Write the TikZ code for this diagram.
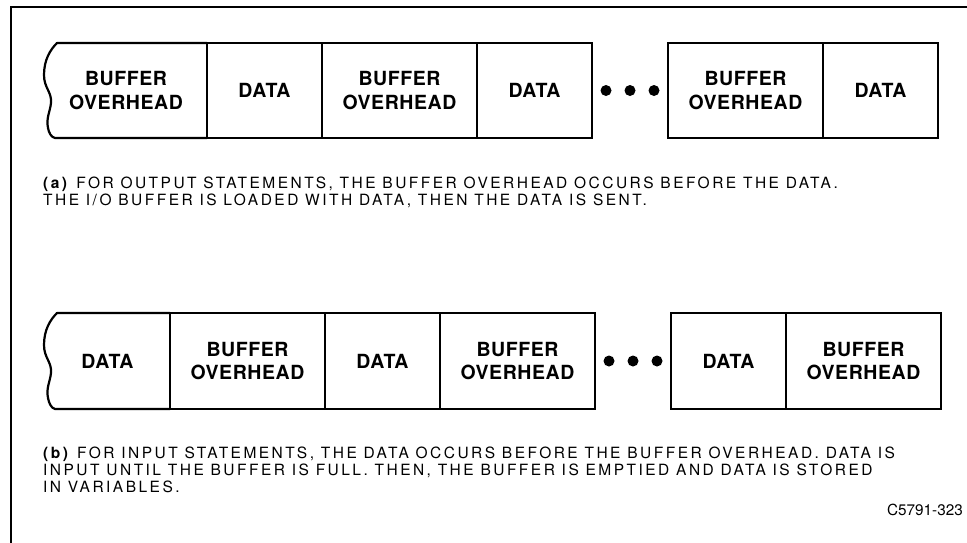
\documentclass[tikz,border=0pt]{standalone}
\usepackage{fontspec}
\setmainfont{TeX Gyre Heros}
\newfontfamily\capfont[LetterSpace=16]{TeX Gyre Heros}
\newfontfamily\cellfont[LetterSpace=3]{TeX Gyre Heros}
\usepackage{tikz}
\usetikzlibrary{positioning}

\begin{document}
\begin{tikzpicture}[
  x=1pt, y=-1pt,
  frame/.style={line width=2.6pt},
  cell/.style={draw, line width=2.2pt, minimum height=95pt, inner sep=0pt, outer sep=0pt, align=center, font=\cellfont\fontsize{19.5}{24}\selectfont\bfseries},
  torn/.style={line width=2.2pt, line join=round},
  dot/.style={circle, fill, minimum size=11pt, inner sep=0pt, outer sep=0pt},
  note/.style={anchor=north west, align=left, inner sep=0pt, font=\capfont\fontsize{15.5}{17}\selectfont}
]
\useasboundingbox (0,0) rectangle (967,542);

% outer frame
\coordinate (fbl) at (11,545);
\coordinate (ftr) at (970,7);
\draw[frame] (fbl) |- (ftr);

% (a) output buffer
\node[cell, draw=none, minimum width=162pt] (a1) at (126,90.5) {BUFFER\\OVERHEAD};
\node[cell, minimum width=115pt] (a2) [right=0pt of a1] {DATA};
\node[cell, minimum width=155pt] (a3) [right=0pt of a2] {BUFFER\\OVERHEAD};
\node[cell, minimum width=115pt] (a4) [right=0pt of a3] {DATA};
\node[dot] (da1) [right=8.5pt of a4] {};
\node[dot] (da2) [right=13pt of da1] {};
\node[dot] (da3) [right=13pt of da2] {};
\node[cell, minimum width=155pt] (a5) [right=8.5pt of da3] {BUFFER\\OVERHEAD};
\node[cell, minimum width=115pt] (a6) [right=0pt of a5] {DATA};
\begin{scope}[shift={(a1.north west)}]
  \draw[torn] (a1.north east) -- (12,0)
    .. controls (5,7) and (-1,17) .. (-1,32)
    .. controls (-1,45) and (7,49) .. (6,60)
    .. controls (5,69) and (1,75) .. (3,85)
    .. controls (4,90) and (6,94) .. (10,95) -- (a1.south east);
\end{scope}

\node[note] (capa) at (43,177) {\textbf{(a)} FOR OUTPUT STATEMENTS, THE BUFFER OVERHEAD OCCURS BEFORE THE DATA.\\
THE I/O BUFFER IS LOADED WITH DATA, THEN THE DATA IS SENT.};

% (b) input buffer
\node[cell, draw=none, minimum width=125pt, minimum height=96pt] (b1) at (107.5,361) {DATA};
\node[cell, minimum width=155pt, minimum height=96pt] (b2) [right=0pt of b1] {BUFFER\\OVERHEAD};
\node[cell, minimum width=115pt, minimum height=96pt] (b3) [right=0pt of b2] {DATA};
\node[cell, minimum width=155pt, minimum height=96pt] (b4) [right=0pt of b3] {BUFFER\\OVERHEAD};
\node[dot] (db1) [right=8.5pt of b4] {};
\node[dot] (db2) [right=13pt of db1] {};
\node[dot] (db3) [right=13pt of db2] {};
\node[cell, minimum width=115pt, minimum height=96pt] (b5) [right=8.5pt of db3] {DATA};
\node[cell, minimum width=155pt, minimum height=96pt] (b6) [right=0pt of b5] {BUFFER\\OVERHEAD};
\begin{scope}[shift={(b1.north west)}]
  \draw[torn] (b1.north east) -- (12,0)
    .. controls (5,7) and (-1,17) .. (-1,32)
    .. controls (-1,45) and (7,49) .. (6,60)
    .. controls (5,69) and (1,75) .. (3,85)
    .. controls (4,90) and (6,95) .. (10,96) -- (b1.south east);
\end{scope}

\node[note] (capb) at (43,447) {\textbf{(b)} FOR INPUT STATEMENTS, THE DATA OCCURS BEFORE THE BUFFER OVERHEAD. DATA IS\\
INPUT UNTIL THE BUFFER IS FULL. THEN, THE BUFFER IS EMPTIED AND DATA IS STORED\\
IN VARIABLES.};

\node[note, anchor=east, font=\fontsize{15.3}{17}\selectfont] (fig) at (963,510) {C5791-323};
\end{tikzpicture}
\end{document}
